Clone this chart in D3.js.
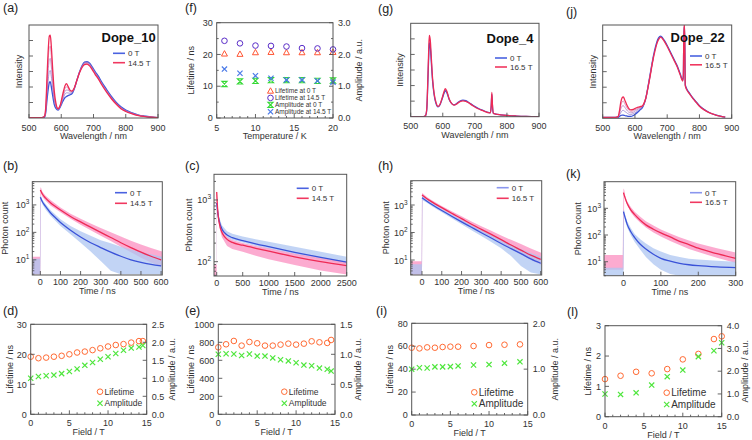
<!DOCTYPE html>
<html><head><meta charset="utf-8">
<script src="https://cdn.jsdelivr.net/npm/d3@7"></script>
<style>body{margin:0;background:#fff}svg{display:block;font-family:"Liberation Sans",Arial,sans-serif}</style>
</head><body><svg id="c" width="752" height="440"></svg>
<script>
// ---------------- DATA ----------------
// (a) Dope_10 spectra (normalized intensity)
const aWl = [500,540,548,552,556,560,563,566,569,573,578,584,590,597,605,612,616,621,627,633,640,648,656,664,672,680,688,696,705,715,725,740,755,770,785,800,820,840,860,880,900];
const a0T = [0.005,0.005,0.01,0.06,0.2,0.32,0.38,0.39,0.34,0.25,0.15,0.10,0.085,0.12,0.18,0.22,0.23,0.24,0.25,0.26,0.31,0.40,0.49,0.56,0.60,0.605,0.59,0.55,0.50,0.45,0.39,0.31,0.235,0.17,0.12,0.085,0.055,0.032,0.02,0.01,0.005];
const aMid1 = [0.005,0.005,0.012,0.075,0.26,0.42,0.50,0.51,0.45,0.33,0.19,0.115,0.09,0.125,0.2,0.26,0.27,0.27,0.265,0.27,0.315,0.40,0.487,0.555,0.595,0.60,0.582,0.543,0.49,0.44,0.38,0.30,0.228,0.165,0.115,0.081,0.052,0.03,0.018,0.009,0.005];
const aMid2 = [0.005,0.005,0.015,0.09,0.32,0.53,0.63,0.64,0.56,0.40,0.22,0.125,0.092,0.13,0.22,0.29,0.30,0.30,0.28,0.28,0.317,0.40,0.485,0.55,0.588,0.595,0.575,0.535,0.483,0.433,0.373,0.293,0.222,0.16,0.11,0.078,0.05,0.028,0.017,0.009,0.005];
const aMid3 = [0.005,0.005,0.018,0.105,0.39,0.65,0.76,0.77,0.67,0.48,0.26,0.14,0.096,0.135,0.24,0.32,0.335,0.32,0.29,0.285,0.318,0.40,0.482,0.545,0.582,0.588,0.567,0.528,0.476,0.426,0.366,0.286,0.216,0.155,0.105,0.074,0.047,0.027,0.016,0.008,0.005];
const a145T = [0.005,0.005,0.02,0.12,0.45,0.75,0.88,0.89,0.78,0.55,0.3,0.15,0.10,0.14,0.26,0.35,0.37,0.34,0.30,0.29,0.32,0.40,0.48,0.54,0.575,0.58,0.56,0.52,0.47,0.42,0.36,0.28,0.21,0.15,0.10,0.07,0.045,0.025,0.015,0.008,0.005];

// (f) temperature dependence
const fTemp = [6,8,10,12,14,16,18,20];
const fLife0 = [20.2,20.1,20.6,20.7,20.6,20.6,20.6,20.7];
const fLife145 = [24.3,23.5,22.8,22.7,22.5,22.0,21.9,21.6];
const fAmp0 = [1.07,1.15,1.17,1.19,1.19,1.19,1.17,1.18];
const fAmp145 = [1.54,1.41,1.33,1.25,1.20,1.20,1.17,1.13];

// (g) Dope_4 spectra
const gWl = [500,540,546,550,553,556,558,561,564,568,573,579,585,591,598,604,608,613,620,628,635,645,655,663,672,682,695,710,725,740,748,751,753,755,758,765,780,800,830,860,900];
const g0T = [0,0,0.01,0.07,0.32,0.63,0.79,0.75,0.6,0.39,0.235,0.14,0.105,0.125,0.19,0.25,0.28,0.255,0.185,0.14,0.127,0.145,0.17,0.177,0.172,0.15,0.12,0.09,0.068,0.047,0.041,0.11,0.24,0.11,0.035,0.028,0.02,0.013,0.007,0.003,0];
const g165T = [0,0,0.01,0.08,0.35,0.7,0.87,0.82,0.65,0.42,0.25,0.15,0.11,0.13,0.2,0.27,0.30,0.27,0.19,0.14,0.125,0.14,0.165,0.17,0.165,0.145,0.115,0.085,0.065,0.045,0.04,0.12,0.26,0.12,0.035,0.028,0.02,0.013,0.007,0.003,0];

// (j) Dope_22 spectra
const jWl = [500,540,548,552,556,560,564,568,574,580,587,595,603,610,616,622,628,634,640,646,652,658,664,670,676,680,686,692,700,710,720,730,740,748,750,752,754,756,760,770,780,790,800,815,830,850,870,880];
const j0T = [0.01,0.01,0.01,0.02,0.03,0.035,0.035,0.03,0.025,0.02,0.02,0.03,0.05,0.07,0.09,0.11,0.15,0.22,0.33,0.45,0.57,0.68,0.77,0.84,0.875,0.88,0.86,0.83,0.78,0.71,0.64,0.57,0.48,0.41,0.46,0.98,0.98,0.36,0.32,0.265,0.215,0.175,0.135,0.093,0.062,0.036,0.019,0.012];
const j165T = [0.01,0.01,0.02,0.08,0.17,0.22,0.23,0.2,0.15,0.11,0.09,0.095,0.11,0.12,0.125,0.13,0.16,0.22,0.32,0.43,0.55,0.66,0.75,0.82,0.86,0.87,0.85,0.82,0.77,0.7,0.63,0.56,0.47,0.40,0.45,1.0,1.0,0.35,0.31,0.26,0.21,0.17,0.13,0.09,0.06,0.035,0.018,0.012];
const jMidWl = [540,548,552,556,560,564,568,574,580,587,595,603,610,616,622,628,634,640,646,652,658];
const jMid1 = [0.01,0.012,0.035,0.06,0.08,0.085,0.075,0.06,0.045,0.04,0.05,0.065,0.085,0.1,0.115,0.152,0.22,0.328,0.445,0.565,0.675];
const jMid2 = [0.01,0.015,0.05,0.1,0.13,0.135,0.12,0.09,0.068,0.058,0.065,0.083,0.1,0.11,0.12,0.155,0.22,0.325,0.44,0.56,0.67];
const jMid3 = [0.01,0.018,0.065,0.135,0.175,0.185,0.16,0.12,0.09,0.075,0.08,0.097,0.11,0.118,0.125,0.158,0.22,0.322,0.435,0.555,0.665];

// (b) decay Dope_10
const bFitT = [0,10,25,50,75,100,150,200,250,300,350,400,450,500,550,600];
const bFit0 = [1900,1300,900,520,340,230,120,68,42,28,19,13.5,10,8,6.8,6];
const bFit145 = [3500,2500,1800,1200,870,650,380,240,155,100,65,42,28,19,13.5,10];
const bDatT = [-45,-2,0,3,10,25,50,100,150,200,250,300,350,400,450,500,550,605];
const bDat0Lo = [3,3,3,1500,1050,700,400,170,85,42,20,9,4,3,3,3,3,3];
const bDat0Hi = [11,11,2100,2200,1550,1100,650,300,170,110,75,52,40,30,24,19,16,13];
const bDat145Lo = [3,3,3,2600,2000,1450,950,540,310,190,120,75,48,30,19,12,8,5.5];
const bDat145Hi = [13,13,4200,4300,3000,2200,1500,800,480,310,210,145,100,70,50,36,27,20];

// (c) decay (long range)
const cFitT = [0,10,25,50,100,150,200,300,500,750,1000,1500,2000,2500];
const cFit0 = [900,750,580,450,340,295,270,245,220,195,175,142,117,98];
const cFit145 = [1350,900,600,420,300,255,230,205,185,165,148,120,100,86];
const cDatT = [-50,-3,0,5,25,50,100,200,300,500,750,1000,1500,2000,2500];
const cDat0Lo = [60,60,60,700,520,420,320,245,225,205,180,160,130,108,90];
const cDat0Hi = [64,64,1000,950,680,520,390,310,285,255,230,210,175,145,120];
const cDat145Lo = [59,59,59,1000,500,360,250,180,160,145,125,110,88,72,62];
const cDat145Hi = [90,90,1450,1300,700,480,340,250,225,200,180,165,135,115,100];

// (h) decay Dope_4
const hFitT = [0,25,50,100,150,200,250,300,350,400,450,500,550,600];
const hFit0 = [1850,1380,1050,630,390,245,155,98,63,40,26,17,11,7.6];
const hFit165 = [2300,1700,1300,800,500,320,200,130,85,55,35,23,15,10.5];
const hDatT = [-57,-2,0,3,25,50,100,150,200,250,300,350,400,450,500,550,605];
const hDat0Lo = [3,3,3,1500,1200,900,540,330,200,120,75,45,27,14,6,3.5,3];
const hDat0Hi = [7,7,2000,2100,1550,1200,720,450,290,185,120,80,53,36,25,18,13];
const hDat165Lo = [3,3,3,1900,1500,1150,700,430,270,165,105,68,42,26,16,10,6.5];
const hDat165Hi = [9,9,2600,2700,1950,1500,930,590,390,250,170,115,78,54,38,26,18];

// (k) decay Dope_22
const kFitT = [0,5,10,20,30,45,60,80,100,125,150,175,200,250,300];
const kFit0 = [750,420,250,130,80,45,30,19,13.4,10.5,8.7,7.7,7.1,6.4,6];
const kFit165 = [3850,2300,1500,850,580,360,240,165,120,85,58,44,32,20,13.4];
const kDatT = [-52,-2,0,2,5,10,20,30,45,60,80,100,125,150,175,200,250,300];
const kDat0Lo = [3,3,3,600,320,190,95,55,28,15,8,5,3.5,3,3,3,3,3];
const kDat0Hi = [6,6,900,850,520,330,180,110,70,48,32,24,18,15,13,12,11,10];
const kDat165Lo = [5,5,5,3500,2000,1300,700,460,290,190,125,88,60,42,30,23,14,9];
const kDat165Hi = [18,18,5500,5000,2900,1850,1100,750,480,330,225,160,115,82,62,48,32,22];

// (d) field dependence Dope_10
const dField = [0,1,2,3,4,5,6,7,8,9,10,11,12,13,14,14.5];
const dLife = [19.2,18.7,18.9,19.2,19.5,20.0,20.6,20.9,21.4,22.0,22.6,23.1,23.4,23.9,24.4,24.4];
const dAmp = [1.0,1.05,1.07,1.09,1.13,1.19,1.26,1.36,1.44,1.53,1.60,1.69,1.78,1.84,1.87,1.91];
// (e)
const eField = [0,1,2,3,4,5,6,7,8,9,10,11,12,13,14,14.5];
const eLife = [744,778,815,763,804,789,763,763,774,785,774,785,811,800,793,826];
const eAmp = [1.0,1.01,1.005,0.98,1.005,0.97,0.97,0.94,0.91,0.89,0.86,0.82,0.81,0.77,0.75,0.72];
// (i) Dope_4
const iField = [0,1,2,3,4,5,6,8,10,12,14];
const iLife = [58.7,58.1,59.0,58.7,59.3,59.6,59.6,60.2,61.0,61.3,61.6];
const iAmp = [1.0,1.03,1.025,1.05,1.05,1.055,1.07,1.09,1.10,1.13,1.16];
// (l) Dope_22
const lField = [0,2,4,6,8,10,12,14,15];
const lLife = [1.24,1.35,1.48,1.43,1.57,1.89,2.07,2.56,2.65];
const lAmp = [1.0,0.98,1.05,1.39,1.76,2.05,2.64,2.9,3.25];

// ---------------- DRAWING ----------------
const svg = d3.select('#c');
const FR = '#555', TXT = '#333';
const BLUE = '#3a52d8', RED = '#ee2a55', LBLUE = '#adc6f2', PINK = '#fb9cc8';
const ORANGE = '#ff6a33', GREEN = '#4ee63c';
let clipN = 0;

function panel(b){
  const id = 'cp' + (clipN++);
  svg.append('clipPath').attr('id', id).append('rect')
    .attr('x', b.l).attr('y', b.t).attr('width', b.r - b.l).attr('height', b.b - b.t);
  const g = svg.append('g');
  const inner = g.append('g').attr('clip-path', `url(#${id})`);
  return {g, inner};
}
function frame(g, b){
  g.append('rect').attr('x', b.l).attr('y', b.t).attr('width', b.r - b.l).attr('height', b.b - b.t)
    .attr('fill', 'none').attr('stroke', FR).attr('stroke-width', 1);
}
function tline(g, x1, y1, x2, y2){
  g.append('line').attr('x1', x1).attr('y1', y1).attr('x2', x2).attr('y2', y2)
    .attr('stroke', FR).attr('stroke-width', 0.9);
}
function txt(g, x, y, s, anchor, size){
  return g.append('text').attr('x', x).attr('y', y).attr('text-anchor', anchor || 'middle')
    .attr('font-size', size || 9).attr('fill', TXT).text(s);
}
function bottomAxis(g, x, b, vals, minor, fmt, off){
  (minor || []).forEach(v => tline(g, x(v), b.b, x(v), b.b - 2));
  vals.forEach(v => { tline(g, x(v), b.b, x(v), b.b - 4); txt(g, x(v), b.b + (off || 12.5), fmt ? fmt(v) : v); });
}
function leftAxis(g, y, b, vals, fmt, labels = true, minor){
  (minor || []).forEach(v => tline(g, b.l, y(v), b.l + 2, y(v)));
  vals.forEach(v => { tline(g, b.l, y(v), b.l + 4, y(v)); if (labels) txt(g, b.l - 4, y(v) + 3.2, fmt ? fmt(v) : v, 'end'); });
}
function rightAxis(g, y, b, vals, fmt, minor){
  (minor || []).forEach(v => tline(g, b.r, y(v), b.r - 2, y(v)));
  vals.forEach(v => { tline(g, b.r, y(v), b.r - 4, y(v)); txt(g, b.r + 5, y(v) + 3.2, fmt ? fmt(v) : v, 'start'); });
}
function logLeft(g, y, b, decs){
  y.ticks().forEach(v => {
    const m = Math.round(v / Math.pow(10, Math.floor(Math.log10(v) + 1e-9)));
    tline(g, b.l, y(v), b.l + (m === 1 ? 4 : 2), y(v));
  });
  decs.forEach(k => {
    const t = g.append('text').attr('x', b.l - 3).attr('y', y(Math.pow(10, k)) + 3.5)
      .attr('text-anchor', 'end').attr('font-size', 9).attr('fill', TXT);
    t.append('tspan').text('10');
    t.append('tspan').attr('dy', -4).attr('font-size', 6.5).text(k);
  });
}
function vtitle(g, x, y, s, size){
  g.append('text').attr('transform', `translate(${x},${y}) rotate(-90)`).attr('text-anchor', 'middle')
    .attr('dominant-baseline', 'central').attr('font-size', size || 9).attr('fill', TXT).text(s);
}
function plabel(x, y, s){ txt(svg, x, y, s, 'start', 12.5).attr('fill', '#222'); }
function lineSeries(g, x, y, xs, ys, color, w){
  g.append('path').datum(xs.map((v, i) => [v, ys[i]]))
    .attr('d', d3.line().x(d => x(d[0])).y(d => y(d[1])).curve(d3.curveMonotoneX))
    .attr('fill', 'none').attr('stroke', color).attr('stroke-width', w || 1.2);
}
function band(g, x, y, xs, lo, hi, color, op){
  g.append('path').datum(xs.map((v, i) => [v, lo[i], hi[i]]))
    .attr('d', d3.area().x(d => x(d[0])).y0(d => y(d[1])).y1(d => y(d[2])))
    .attr('fill', color).attr('opacity', op || 1);
}
function legLine(g, x1, x2, y, color, label){
  g.append('line').attr('x1', x1).attr('x2', x2).attr('y1', y).attr('y2', y).attr('stroke', color).attr('stroke-width', 1.6);
  txt(g, x2 + 3, y + 2.9, label, 'start', 8);
}
const sym = {
  circle: (g, cx, cy, c) => g.append('circle').attr('cx', cx).attr('cy', cy).attr('r', 2.8).attr('fill', 'none').attr('stroke', c).attr('stroke-width', 1),
  x: (g, cx, cy, c) => g.append('path').attr('d', `M${cx-2.6},${cy-2.6}L${cx+2.6},${cy+2.6}M${cx-2.6},${cy+2.6}L${cx+2.6},${cy-2.6}`).attr('stroke', c).attr('stroke-width', 1.2).attr('fill', 'none'),
  tri: (g, cx, cy, c) => g.append('path').attr('d', `M${cx},${cy-3.2}L${cx+3},${cy+2.2}L${cx-3},${cy+2.2}Z`).attr('stroke', c).attr('stroke-width', 1).attr('fill', 'none'),
  hour: (g, cx, cy, c) => g.append('path').attr('d', `M${cx-2.6},${cy-2.6}H${cx+2.6}L${cx-2.6},${cy+2.6}H${cx+2.6}Z`).attr('stroke', c).attr('stroke-width', 1.1).attr('fill', 'none')
};
function scatter(g, x, y, xs, ys, kind, color){ xs.forEach((v, i) => sym[kind](g, x(v), y(ys[i]), color)); }

// ---------- Row 1: spectra ----------
function spectrum(b, wl, series, mids, midWl, title, legPos, fieldLabel){
  const {g, inner} = panel(b);
  const x = d3.scaleLinear().domain([500, 900]).range([b.l, b.r]);
  const y = d3.scaleLinear().domain([0, 1]).range([b.b, b.t]);
  lineSeries(inner, x, y, wl, series[0], BLUE, 1.3);
  const ip = d3.interpolateRgb('#6a74e0', '#f06a90');
  mids.forEach((m, i) => lineSeries(inner, x, y, midWl, m, ip((i + 1) / (mids.length + 1)), 0.7));
  lineSeries(inner, x, y, wl, series[1], RED, 1.3);
  frame(g, b);
  bottomAxis(g, x, b, [500, 600, 700, 800, 900]);
  leftAxis(g, y, b, [1, 2, 3, 4, 5].map(k => k / 6), null, false);
  txt(g, (b.l + b.r) / 2, b.b + 21, 'Wavelength / nm');
  vtitle(g, legPos.ty, (b.t + b.b) / 2, 'Intensity');
  txt(g, legPos.dx, legPos.dy, title, 'start', 13).attr('font-weight', 'bold').attr('fill', '#111');
  legLine(g, legPos.lx, legPos.lx + 12, legPos.ly1, '#4a62e0', '0 T');
  legLine(g, legPos.lx, legPos.lx + 12, legPos.ly2, '#f03860', fieldLabel);
}
spectrum({l: 29, r: 158, t: 25, b: 118}, aWl, [a0T, a145T], [aMid1, aMid2, aMid3], aWl, 'Dope_10',
  {ty: 19, dx: 101.5, dy: 42, lx: 113, ly1: 53.3, ly2: 62.7}, '14.5 T');
spectrum({l: 410.7, r: 539, t: 23.3, b: 116.7}, gWl, [g0T, g165T], [], gWl, 'Dope_4',
  {ty: 400, dx: 486.5, dy: 43, lx: 495, ly1: 58, ly2: 67}, '16.5 T');
spectrum({l: 602.7, r: 731.7, t: 25, b: 118.3}, jWl, [j0T, j165T], [jMid1, jMid2, jMid3], jMidWl, 'Dope_22',
  {ty: 593.3, dx: 670.5, dy: 42, lx: 690, ly1: 56, ly2: 64.8}, '16.5 T');

// (f)
(function(){
  const b = {l: 216.7, r: 333, t: 22.7, b: 118};
  const {g, inner} = panel(b);
  const x = d3.scaleLinear().domain([5, 20]).range([b.l, b.r]);
  const y = d3.scaleLinear().domain([0, 30]).range([b.b, b.t]);
  const y2 = d3.scaleLinear().domain([0, 3]).range([b.b, b.t]);
  scatter(g, x, y, fTemp, fLife0, 'tri', '#ff5533');
  scatter(g, x, y, fTemp, fLife145, 'circle', '#5a2dc8');
  scatter(g, x, y2, fTemp, fAmp0, 'hour', '#35d935');
  scatter(g, x, y2, fTemp, fAmp145, 'x', '#4a7ae8');
  frame(g, b);
  bottomAxis(g, x, b, [5, 10, 15, 20], d3.range(6, 20, 1).filter(v => v % 5));
  leftAxis(g, y, b, [0, 10, 20, 30], null, true, [5, 15, 25]);
  rightAxis(g, y2, b, [0, 1, 2, 3], d3.format('.1f'), [0.5, 1.5, 2.5]);
  txt(g, (b.l + b.r) / 2, b.b + 21, 'Temperature / K');
  vtitle(g, 190.5, (b.t + b.b) / 2, 'Lifetime / ns');
  vtitle(g, 358.5, (b.t + b.b) / 2, 'Amplitude / a.u.');
  const leg = [['tri', '#ff5533', 'Lifetime at 0 T'], ['circle', '#5a2dc8', 'Lifetime at 14.5 T'],
               ['hour', '#35d935', 'Amplitude at 0 T'], ['x', '#4a7ae8', 'Amplitude at 14.5 T']];
  leg.forEach((d, i) => { const yy = 91 + i * 6.9; sym[d[0]](g, 270.5, yy, d[1]); txt(g, 275, yy + 2.4, d[2], 'start', 6.5); });
})();

// ---------- Row 2: decays ----------
function decay(b, xd, yd, xt, decs, fit, dat, order, legPos, fieldLabel, ttlX){
  const {g, inner} = panel(b);
  const x = d3.scaleLinear().domain(xd).range([b.l, b.r]);
  const y = d3.scaleLog().domain(yd).range([b.b, b.t]);
  order.forEach(o => {
    if (o === 'p') band(inner, x, y, dat.t, dat.rlo, dat.rhi, PINK, 0.85);
    else band(inner, x, y, dat.t, dat.blo, dat.bhi, LBLUE, 0.75);
  });
  lineSeries(inner, x, y, fit.t, fit.b, BLUE, 1.3);
  lineSeries(inner, x, y, fit.t, fit.r, RED, 1.3);
  frame(g, b);
  bottomAxis(g, x, b, xt, null, null, 10);
  logLeft(g, y, b, decs);
  txt(g, (b.l + b.r) / 2, b.b + 19, 'Time / ns');
  vtitle(g, ttlX, (b.t + b.b) / 2, 'Photon count');
  legLine(g, legPos.lx, legPos.lx + 12, legPos.ly1, legPos.c0 || '#4a62e0', '0 T');
  legLine(g, legPos.lx, legPos.lx + 12, legPos.ly2, '#f03860', fieldLabel);
}
decay({l: 32.3, r: 162.3, t: 181.7, b: 275}, [-40, 606], [2.8, 7000], [0, 100, 200, 300, 400, 500, 600], [1, 2, 3],
  {t: bFitT, b: bFit0, r: bFit145}, {t: bDatT, blo: bDat0Lo, bhi: bDat0Hi, rlo: bDat145Lo, rhi: bDat145Hi}, ['p', 'b'],
  {lx: 115, ly1: 192.7, ly2: 203.3}, '14.5 T', 5);
decay({l: 214, r: 346.7, t: 174.3, b: 276}, [-52, 2500], [58.6, 2610], [0, 500, 1000, 1500, 2000, 2500], [2, 3],
  {t: cFitT, b: cFit0, r: cFit145}, {t: cDatT, blo: cDat0Lo, bhi: cDat0Hi, rlo: cDat145Lo, rhi: cDat145Hi}, ['b', 'p'],
  {lx: 296.7, ly1: 188.3, ly2: 198.3}, '14.5 T', 188.5);
decay({l: 410.7, r: 541.7, t: 180.7, b: 275}, [-57, 605], [2.85, 7660], [0, 100, 200, 300, 400, 500, 600], [1, 2, 3],
  {t: hFitT, b: hFit0, r: hFit165}, {t: hDatT, blo: hDat0Lo, bhi: hDat0Hi, rlo: hDat165Lo, rhi: hDat165Hi}, ['p', 'b'],
  {lx: 496.7, ly1: 187.7, ly2: 198.3, c0: '#8a96ee'}, '16.5 T', 386);
decay({l: 604, r: 735.7, t: 181.7, b: 275.7}, [-52, 300], [3, 9900], [0, 100, 200, 300], [1, 2, 3],
  {t: kFitT, b: kFit0, r: kFit165}, {t: kDatT, blo: kDat0Lo, bhi: kDat0Hi, rlo: kDat165Lo, rhi: kDat165Hi}, ['p', 'b'],
  {lx: 690, ly1: 192.7, ly2: 202.3, c0: '#8a96ee'}, '16.5 T', 578.3);

// ---------- Row 3: field dependence ----------
function fieldPanel(b, ld, rd, lt, rt, rfmt, xs, life, amp, leg, ttlL, ttlR, legSize){
  const {g, inner} = panel(b);
  const x = d3.scaleLinear().domain([0, 15]).range([b.l, b.r]);
  const y = d3.scaleLinear().domain(ld).range([b.b, b.t]);
  const y2 = d3.scaleLinear().domain(rd).range([b.b, b.t]);
  scatter(g, x, y, xs, life, 'circle', ORANGE);
  scatter(g, x, y2, xs, amp, 'x', GREEN);
  frame(g, b);
  bottomAxis(g, x, b, [0, 5, 10, 15], d3.range(1, 15, 1).filter(v => v % 5), null, 12);
  leftAxis(g, y, b, lt);
  rightAxis(g, y2, b, rt, rfmt);
  txt(g, (b.l + b.r) / 2, b.b + 21, 'Field / T');
  vtitle(g, ttlL, (b.t + b.b) / 2, 'Lifetime / ns');
  vtitle(g, ttlR, (b.t + b.b) / 2, 'Amplitude / a.u.');
  sym.circle(g, leg.x, leg.y1, ORANGE);
  txt(g, leg.x + 4.5, leg.y1 + legSize * 0.36, 'Lifetime', 'start', legSize);
  sym.x(g, leg.x, leg.y2, GREEN);
  txt(g, leg.x + 4.5, leg.y2 + legSize * 0.36, 'Amplitude', 'start', legSize);
}
const f1 = d3.format('.1f');
fieldPanel({l: 30.7, r: 146.7, t: 324.3, b: 414.3}, [0, 30], [0, 2.5], [0, 10, 20, 30], [0, 0.5, 1, 1.5, 2, 2.5], f1,
  dField, dLife, dAmp, {x: 100, y1: 391.7, y2: 403.3}, 10, 171.7, 8.5);
fieldPanel({l: 218.3, r: 335, t: 324.3, b: 414.3}, [0, 1000], [0, 1.5], [0, 200, 400, 600, 800, 1000], [0, 0.5, 1, 1.5], f1,
  eField, eLife, eAmp, {x: 284.3, y1: 391.7, y2: 403.3}, 191, 358.3, 8.5);
fieldPanel({l: 411.7, r: 527.7, t: 323.3, b: 415}, [0, 80], [0, 2], [0, 20, 40, 60, 80], [0, 1, 2], f1,
  iField, iLife, iAmp, {x: 474.3, y1: 392.3, y2: 403.8}, 390, 555, 10);
fieldPanel({l: 605, r: 721.7, t: 325.7, b: 416.7}, [0, 3], [0, 4], [0, 1, 2, 3], [0, 1, 2, 3, 4], f1,
  lField, lLife, lAmp, {x: 666.7, y1: 392.7, y2: 404.5}, 588.3, 745, 10);

// panel labels
plabel(3, 11.5, '(a)'); plabel(185, 11.5, '(f)'); plabel(378, 13, '(g)'); plabel(566, 16, '(j)');
plabel(3, 170, '(b)'); plabel(185, 170, '(c)'); plabel(378, 170, '(h)'); plabel(566, 177.5, '(k)');
plabel(3, 314.5, '(d)'); plabel(185, 314.5, '(e)'); plabel(376, 314.5, '(i)'); plabel(567, 316, '(l)');
</script></body></html>
